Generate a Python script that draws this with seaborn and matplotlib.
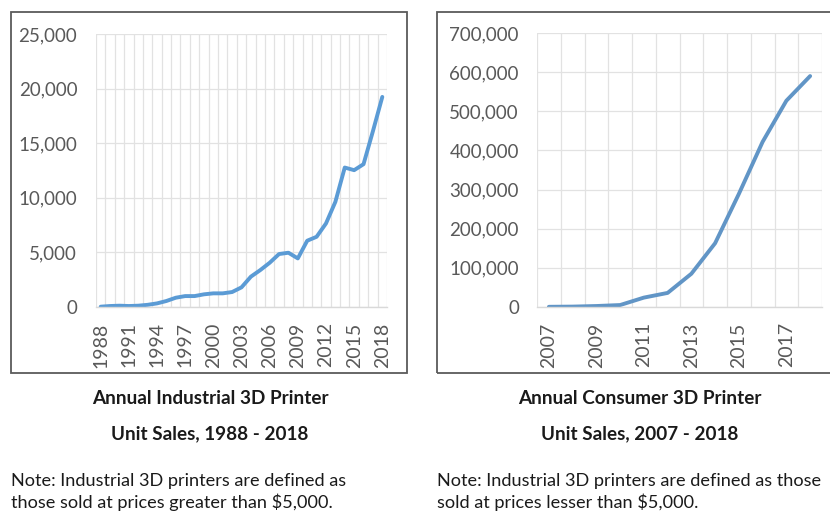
import matplotlib
matplotlib.use("Agg")
import matplotlib.pyplot as plt
from matplotlib.patches import Rectangle
from matplotlib.ticker import FuncFormatter, FixedLocator
import seaborn as sns
import pandas as pd

# Annual industrial 3D printer unit sales
industrial_years = list(range(1988, 2019))
industrial_units = [30, 90, 120, 90, 120, 200, 330, 550, 850, 1000, 1000, 1160,
                    1250, 1250, 1370, 1800, 2780, 3380, 4050, 4850, 4970, 4450,
                    6070, 6430, 7650, 9630, 12770, 12530, 13080, 16100, 19240]
industrial_ticks = list(range(1988, 2019, 3))

# Annual consumer 3D printer unit sales
consumer_years = list(range(2007, 2019))
consumer_units = [500, 1000, 2500, 5000, 24000, 36000, 85000, 163000,
                  289000, 422000, 527000, 590000]
consumer_ticks = list(range(2007, 2019, 2))

titles = [("Annual Industrial 3D Printer", "Unit Sales, 1988 - 2018"),
          ("Annual Consumer 3D Printer", "Unit Sales, 2007 - 2018")]
notes = [("Note: Industrial 3D printers are defined as",
          "those sold at prices greater than $5,000."),
         ("Note: Industrial 3D printers are defined as those",
          "sold at prices lesser than $5,000.")]

sns.set_style("white")
plt.rcParams["font.family"] = ["Lato", "DejaVu Sans"]

W, H = 830, 514
fig = plt.figure(figsize=(W / 100, H / 100), dpi=100)
fig.patch.set_facecolor("white")


def px_axes(x0, y0, x1, y1):
    return fig.add_axes([x0 / W, 1 - y1 / H, (x1 - x0) / W, (y1 - y0) / H])


def px_text(x, y, s, **kw):
    fig.text(x / W, 1 - y / H, s, **kw)


TEXT_GREY = "#595959"
GRID = "#E2E2E2"


def style_axes(ax, years, ticks, ymax, ystep, ypad):
    ax.set_xlim(years[0] - 0.5, years[-1] + 0.5)
    ax.set_ylim(0, ymax)
    ax.xaxis.set_major_locator(FixedLocator(ticks))
    ax.xaxis.set_minor_locator(FixedLocator([y + 0.5 for y in [years[0] - 1] + years]))
    ax.yaxis.set_major_locator(FixedLocator(list(range(0, ymax + 1, ystep))))
    ax.yaxis.set_major_formatter(FuncFormatter(lambda v, p: f"{int(v):,}"))
    ax.grid(False)
    ax.grid(which="minor", axis="x", color=GRID, lw=0.9)
    ax.grid(which="major", axis="y", color=GRID, lw=0.9)
    for side in ("top", "right", "left"):
        ax.spines[side].set_visible(False)
    ax.spines["bottom"].set_color("#D9D9D9")
    ax.spines["bottom"].set_linewidth(1.0)
    ax.tick_params(axis="x", which="both", length=0, pad=11, labelsize=14,
                   labelcolor=TEXT_GREY, labelrotation=90)
    ax.tick_params(axis="y", length=0, pad=ypad, labelsize=13.5, labelcolor=TEXT_GREY)
    ax.set_xlabel("")
    ax.set_ylabel("")
    ax.set_facecolor("white")


ind_df = pd.DataFrame({"year": industrial_years, "units": industrial_units})
con_df = pd.DataFrame({"year": consumer_years, "units": consumer_units})

ax1 = px_axes(96, 34, 387, 307)
sns.lineplot(data=ind_df, x="year", y="units", ax=ax1, color="#5B9BD5", lw=2.8)
style_axes(ax1, industrial_years, industrial_ticks, 25000, 5000, 13.5)

ax2 = px_axes(537, 33, 822, 307)
sns.lineplot(data=con_df, x="year", y="units", ax=ax2, color="#6195C6", lw=2.8)
style_axes(ax2, consumer_years, consumer_ticks, 700000, 100000, 13)

# chart frames
for x0, x1 in ((11, 407), (437, 860)):
    fig.patches.append(Rectangle((x0 / W, 1 - 373 / H), (x1 - x0) / W, (373 - 12) / H,
                                 transform=fig.transFigure, fill=False,
                                 edgecolor="#5A5A5A", lw=1.3, zorder=5))

# captions and notes
for cx, nx, (t1, t2), (n1, n2) in zip((210, 640), (11, 437), titles, notes):
    px_text(cx, 398, t1, ha="center", va="center", fontsize=13.6, fontweight="bold", color="#1A1A1A")
    px_text(cx, 434, t2, ha="center", va="center", fontsize=13.6, fontweight="bold", color="#1A1A1A")
    px_text(nx, 481, n1, ha="left", va="center", fontsize=13.1, color="#1A1A1A")
    px_text(nx, 502, n2, ha="left", va="center", fontsize=13.1, color="#1A1A1A")

fig.savefig("out.png", dpi=100, facecolor="white")
